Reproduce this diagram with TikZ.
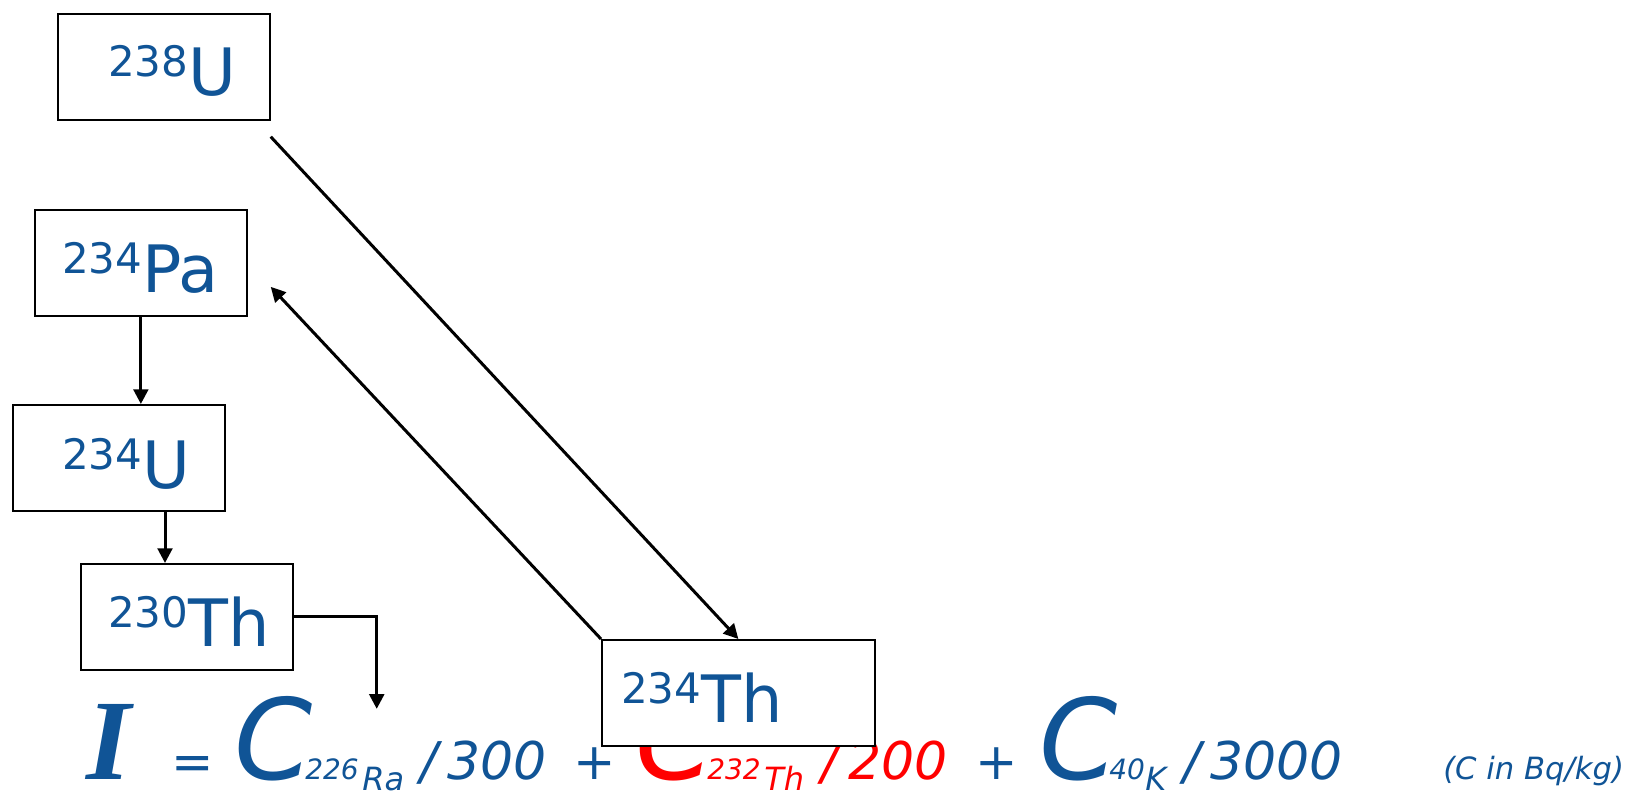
\documentclass[tikz,border=0pt]{standalone}
\usepackage{fontspec}
\setmainfont{DejaVu Sans}
\newfontfamily\serifI{Liberation Serif}
\usetikzlibrary{arrows.meta,calc}
\definecolor{nblue}{RGB}{16,84,150}
\definecolor{nred}{RGB}{255,0,0}
\newcommand{\isolab}[2]{\raisebox{14.25pt}{\fontsize{31.5}{31.5}\selectfont #1}#2}
\newcommand{\slashnum}[1]{/\kern7pt #1}
\begin{document}
\begin{tikzpicture}[x=0.75pt,y=-0.75pt,
  nbox/.style={draw=black, line width=1.3pt, fill=white, inner sep=0pt, anchor=north west,
               minimum width=159pt, minimum height=79.5pt},
  lab/.style={inner sep=0pt, anchor=base west, text=nblue, font=\fontsize{49}{49}\selectfont},
  conn/.style={draw=black, line width=2.25pt, -{Triangle[length=11pt,width=11pt]}},
  fpart/.style={inner sep=0pt, anchor=base west, text=nblue},
  big/.style={font=\fontsize{84}{84}\selectfont\itshape},
  mid/.style={font=\fontsize{38}{38}\selectfont},
  midi/.style={font=\fontsize{39}{39}\selectfont\itshape},
  subd/.style={font=\fontsize{21}{21}\selectfont\itshape},
  subl/.style={font=\fontsize{24}{24}\selectfont\itshape},
  note/.style={font=\fontsize{23}{23}\selectfont\itshape}]
\useasboundingbox (0,0) rectangle (1630,795);
% formula
\node[fpart, font=\fontsize{86}{86}\selectfont\serifI\bfseries\itshape] (fI) at (86,779) {I};
\node[fpart, mid] (feq) at (171,779) {=};
\node[fpart, big] (fC1) at (234,779) {C};
\node[fpart, subd] (fs1) at (305,779) {226};
\node[fpart, subl] (fr1) at (362,790) {Ra};
\node[fpart, midi] (fd1) at (420,779) {\slashnum{300}};
\node[fpart, mid] (fp1) at (573,779) {+};
\node[fpart, big, text=nred] (fC2) at (635,779) {C};
\node[fpart, subd, text=nred] (fs2) at (707,779) {232};
\node[fpart, subl, text=nred] (fr2) at (764,790) {Th};
\node[fpart, midi, text=nred] (fd2) at (821,779) {\slashnum{200}};
\node[fpart, mid] (fp2) at (975,779) {+};
\node[fpart, big] (fC3) at (1039,779) {C};
\node[fpart, subd] (fs3) at (1109,779) {40};
\node[fpart, subl] (fr3) at (1145,790) {K};
\node[fpart, midi] (fd3) at (1183,779) {\slashnum{3000}};
\node[fpart, note] (fnote) at (1443,779) {(C in Bq/kg)};
% boxes
\node[nbox] (u238) at (57,13) {};
\node[nbox] (pa234) at (34,209) {};
\node[nbox] (u234) at (12,404) {};
\node[nbox] (th230) at (80,563) {};
\node[nbox, minimum width=204.75pt] (th234) at (601,639) {};
% labels
\node[lab] (lu238) at (108,96) {\isolab{238}{U}};
\node[lab] (lpa234) at (62,292) {\isolab{234}{Pa}};
\node[lab] (lu234) at (62,488) {\isolab{234}{U}};
\node[lab] (lth230) at (108,646) {\isolab{230}{Th}};
\node[lab] (lth234) at (621,722) {\isolab{234}{Th}};
% connectors
\coordinate (s1) at ($(u238.south east)+(0,16)$);
\coordinate (t2) at ($(pa234.east)+(23,24)$);
\coordinate (c3) at ($(th230.north west)+(85,0)$);
\coordinate (t4) at ($(th230.east)+(83,92)$);
\draw[conn] (s1) -- (th234.north);
\draw[conn] (th234.north west) -- (t2);
\draw[conn] (pa234.south) -- (pa234.south |- u234.north);
\draw[conn] (u234.south -| c3) -- (c3);
\draw[conn] (th230.east) -| (t4);
\end{tikzpicture}
\end{document}
